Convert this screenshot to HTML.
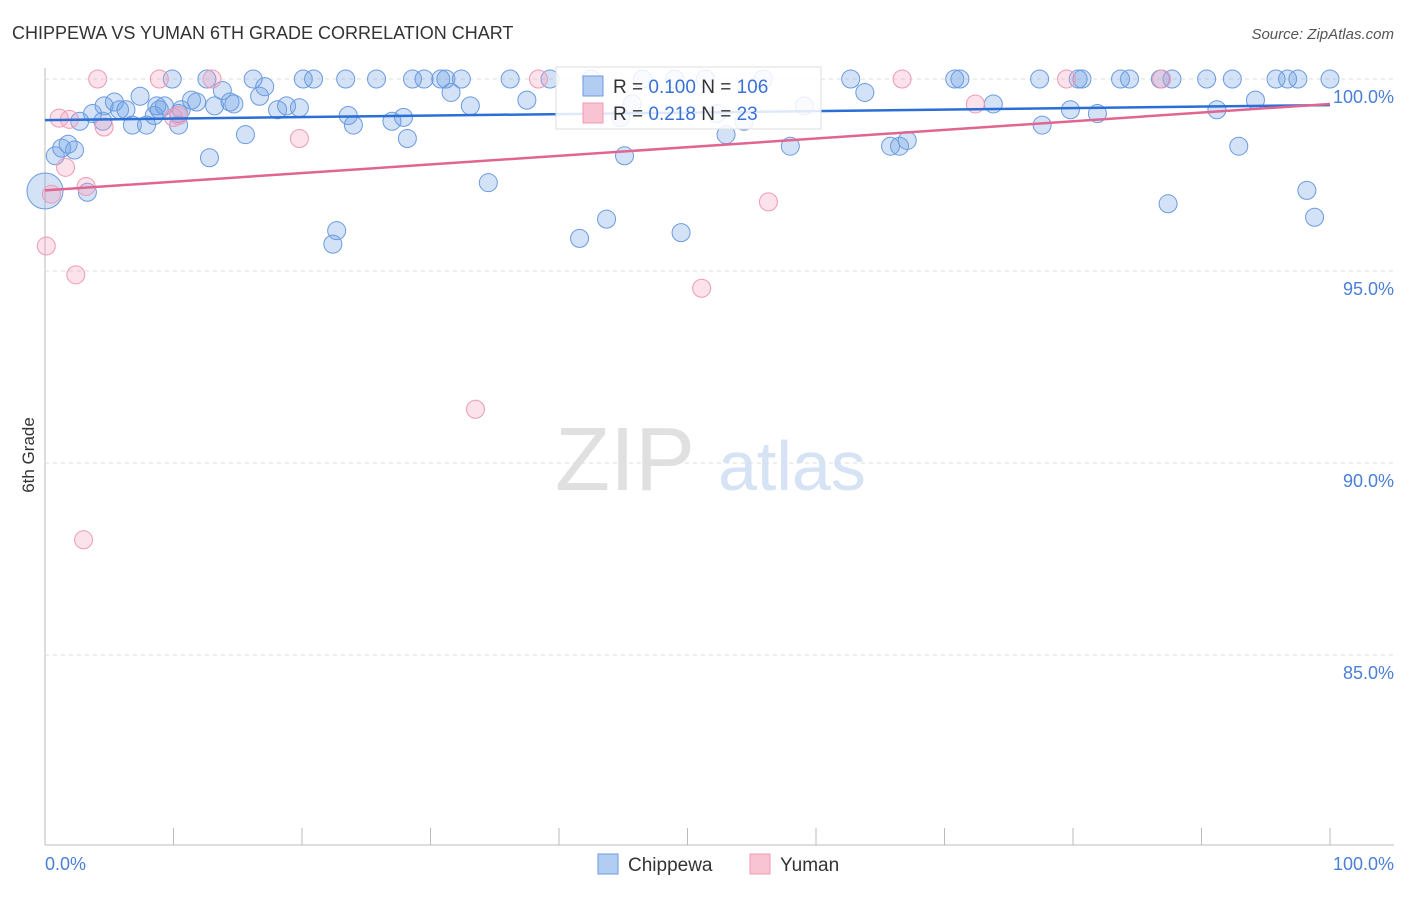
<!DOCTYPE html>
<html><head><meta charset="utf-8"><style>
body{margin:0;background:#fff;font-family:"Liberation Sans",sans-serif}
svg text{font-family:"Liberation Sans",sans-serif}
</style></head><body>
<svg id="c" width="1406" height="892">
<text x="12" y="39" font-size="18" fill="#333">CHIPPEWA VS YUMAN 6TH GRADE CORRELATION CHART</text>
<text x="1394" y="39" font-size="15" fill="#555" text-anchor="end" font-style="italic">Source: ZipAtlas.com</text>
<text x="555" y="490" font-size="90" fill="#e0e0e0" font-family="Liberation Serif">ZIP</text>
<text x="718" y="490" font-size="70" fill="#d5e3f5">atlas</text>
<text transform="translate(34,455) rotate(-90)" font-size="17" fill="#333" text-anchor="middle">6th Grade</text>
<g id="grid"></g><g id="pts"></g><g id="lines"></g>
<g>
<rect x="556" y="67" width="265" height="62" fill="#fff" fill-opacity="0.85" stroke="#ddd"/>
<rect x="583" y="76" width="20" height="20" fill="#b3cdf2" stroke="#6a9be0"/>
<rect x="583" y="103" width="20" height="20" fill="#f8c3d2" stroke="#ee9ab3"/>
<text x="613" y="93" font-size="19" fill="#333">R = <tspan fill="#3a72d8">0.100</tspan>   N = <tspan fill="#3a72d8">106</tspan></text>
<text x="613" y="120" font-size="19" fill="#333">R =  <tspan fill="#3a72d8">0.218</tspan>   N =   <tspan fill="#3a72d8">23</tspan></text>
</g>
<g>
<rect x="598" y="854" width="20" height="20" fill="#b3cdf2" stroke="#6a9be0"/>
<text x="628" y="871" font-size="19" fill="#333">Chippewa</text>
<rect x="750" y="854" width="20" height="20" fill="#f8c3d2" stroke="#ee9ab3"/>
<text x="780" y="871" font-size="19" fill="#333">Yuman</text>
</g>
<text x="45" y="870" font-size="18" fill="#4a7fd8">0.0%</text>
<text x="1394" y="870" font-size="18" fill="#4a7fd8" text-anchor="end">100.0%</text>
</svg>
<script>
const yTicks=[100,95,90,85];
const yTickLabels=["100.0%","95.0%","90.0%","85.0%"];
const blueX=[0.8,1.3,1.8,2.3,2.7,3.3,3.7,4.5,4.6,5.4,5.8,6.3,6.8,7.4,7.9,8.5,8.7,9.3,9.9,10.4,10.6,11.4,11.8,12.6,12.8,13.2,13.8,14.4,14.7,15.6,16.2,16.7,17.1,18.1,18.8,19.8,20.1,20.9,22.4,22.7,23.4,23.6,24.0,25.8,27.0,27.9,28.2,28.6,29.5,30.8,31.2,31.6,32.4,33.1,34.5,36.2,37.5,39.3,41.6,43.7,45.1,45.7,46.5,49.5,51.4,53.0,54.4,55.9,58.0,59.1,62.7,63.8,65.8,66.5,67.1,70.8,71.2,73.8,77.4,77.6,79.8,80.4,80.7,81.9,83.7,84.4,86.8,87.4,87.7,90.4,91.2,92.4,92.9,94.2,95.8,96.7,97.5,98.2,98.8,100,42.5,44.8,49.0,52.3,8.9,10.4];
const blueY=[98.0,98.2,98.3,98.15,98.9,97.05,99.1,98.9,99.3,99.4,99.2,99.2,98.8,99.55,98.8,99.05,99.3,99.3,100,98.8,99.2,99.45,99.4,100,97.95,99.3,99.7,99.4,99.35,98.55,100,99.55,99.8,99.2,99.3,99.25,100,100,95.7,96.05,100,99.05,98.8,100,98.9,99.0,98.45,100,100,100,100,99.65,100,99.3,97.3,100,99.45,100,95.85,96.35,98.0,99.35,100,96.0,100,98.55,98.9,100,98.25,99.3,100,99.65,98.25,98.25,98.4,100,100,99.35,100,98.8,99.2,100,100,99.1,100,100,100,96.75,100,100,99.2,100,98.25,99.45,100,100,100,97.1,96.4,100,100,99.0,100,99.1,99.2,99.1];
const pinkX=[4.1,8.9,13.0,38.4,66.7,79.5,86.9,1.1,1.9,4.6,10.4,19.8,1.6,3.2,0.5,0.1,2.4,72.4,56.3,51.1,33.5,3.0,10.0];
const pinkY=[100,100,100,100,100,100,100,98.98,98.95,98.75,99.05,98.45,97.7,97.2,97.0,95.65,94.9,99.35,96.8,94.55,91.4,88.0,99.0];
const blueTrend=[98.93,99.32];
const pinkTrend=[97.1,99.35];
const NS='http://www.w3.org/2000/svg';
const sx=v=>45+v*12.85, sy=v=>79+(100-v)*38.4;
function mk(t,a,p){const e=document.createElementNS(NS,t);for(const k in a)e.setAttribute(k,a[k]);p.appendChild(e);return e;}
const grid=document.getElementById('grid');
mk('line',{x1:45,y1:68,x2:45,y2:845,stroke:'#bbb'},grid);
mk('line',{x1:45,y1:845,x2:1394,y2:845,stroke:'#bbb'},grid);
for(let k=1;k<=10;k++){const x=45+k*128.5;const l=mk('line',{x1:x,y1:828,x2:x,y2:845,stroke:'#bbb'},grid);

}
yTicks.forEach((t,i)=>{const y=sy(t);mk('line',{x1:45,y1:y,x2:1394,y2:y,stroke:'#ddd','stroke-dasharray':'4,4'},grid);
const tx=mk('text',{x:1394,y:y+24,'font-size':18,fill:'#4a7fd8','text-anchor':'end'},grid);tx.textContent=yTickLabels[i];

});
const pts=document.getElementById('pts');
mk('circle',{cx:45,cy:191,r:18,fill:'rgba(110,160,230,0.3)',stroke:'#6a9be0'},pts);
blueX.forEach((x,i)=>{const c=mk('circle',{cx:sx(x),cy:sy(blueY[i]),r:9,fill:'rgba(110,160,230,0.3)',stroke:'#6a9be0','stroke-width':1},pts);

});
pinkX.forEach((x,i)=>{const c=mk('circle',{cx:sx(x),cy:sy(pinkY[i]),r:9,fill:'rgba(245,160,190,0.3)',stroke:'#ee9ab3','stroke-width':1},pts);

});
const lines=document.getElementById('lines');
const b=mk('line',{x1:sx(0),y1:sy(blueTrend[0]),x2:sx(100),y2:sy(blueTrend[1]),stroke:'#2a6fd6','stroke-width':2.5},lines);


const p=mk('line',{x1:sx(0),y1:sy(pinkTrend[0]),x2:sx(100),y2:sy(pinkTrend[1]),stroke:'#e06590','stroke-width':2.5},lines);


</script>
</body></html>
